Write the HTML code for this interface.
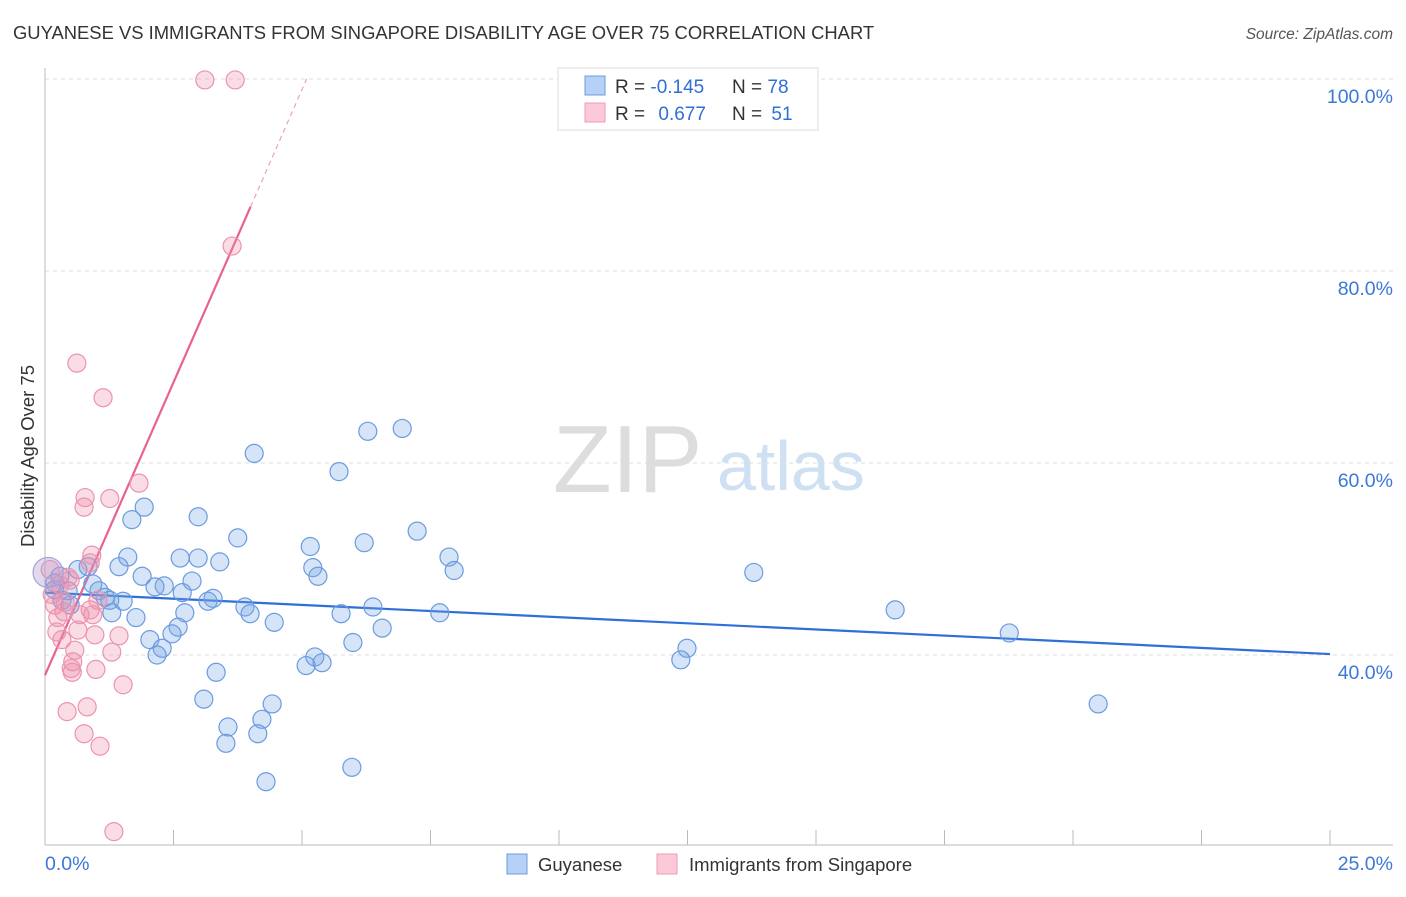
<!DOCTYPE html>
<html><head><meta charset="utf-8"><style>
body{margin:0;background:#fff;font-family:"Liberation Sans",sans-serif}
svg text{font-family:"Liberation Sans",sans-serif}
</style></head><body>
<svg id="chart" width="1406" height="892" xmlns="http://www.w3.org/2000/svg">
<text x="13" y="39" font-size="18.4" fill="#333">GUYANESE VS IMMIGRANTS FROM SINGAPORE DISABILITY AGE OVER 75 CORRELATION CHART</text>
<text x="1393" y="39" font-size="15.5" font-style="italic" fill="#555" text-anchor="end">Source: ZipAtlas.com</text>
<g>
<text x="553" y="492" font-family="Liberation Serif" font-size="96" fill="#ddd">ZIP</text>
<text x="717" y="490" font-size="70" fill="#cfe0f3">atlas</text>
</g>
<g id="grid"></g>
<g id="axes"></g>
<g id="lines"></g>
<g id="points"></g>
<g>
<rect x="558" y="68" width="260" height="62" fill="#fff" stroke="#ddd"/>
<rect x="585" y="76" width="20" height="19" fill="#b7d0f5" stroke="#6a9be0"/>
<rect x="585" y="103" width="20" height="19" fill="#fbc9d8" stroke="#ee9bb5"/>
<text x="615" y="93" font-size="19" fill="#333">R = <tspan fill="#2f6fd6">-0.145</tspan></text>
<text x="732" y="93" font-size="19" fill="#333">N = <tspan fill="#2f6fd6">78</tspan></text>
<text x="615" y="120" font-size="19" fill="#333">R = <tspan fill="#2f6fd6" dx="8">0.677</tspan></text>
<text x="732" y="120" font-size="19" fill="#333">N = <tspan fill="#2f6fd6" dx="4">51</tspan></text>
</g>
<g>
<rect x="507" y="854" width="20" height="20" fill="#b7d0f5" stroke="#6a9be0"/>
<text x="538" y="871" font-size="18.5" fill="#333">Guyanese</text>
<rect x="657" y="854" width="20" height="20" fill="#fbc9d8" stroke="#ee9bb5"/>
<text x="689" y="871" font-size="18.5" fill="#333">Immigrants from Singapore</text>
</g>
<text transform="translate(34,456) rotate(-90)" font-size="18.5" fill="#333" text-anchor="middle">Disability Age Over 75</text>
</svg>
<script>
const yTicks=[100,80,60,40];
const yTickLabels=["100.0%","80.0%","60.0%","40.0%"];
const xTickLabels=["0.0%","25.0%"];
const blueX=[4.07,6.28,6.95,5.72,1.93,1.69,2.98,3.75,7.24,6.21,5.16,1.61,2.63,2.98,3.40,7.86,7.96,13.79,1.44,5.21,5.31,1.89,2.86,2.32,2.14,0.93,0.64,0.84,0.19,2.67,3.27,3.17,1.05,1.17,1.52,1.26,0.45,0.33,3.89,3.99,6.38,5.76,7.68,16.54,2.72,1.30,1.77,4.46,2.59,6.56,2.47,2.04,5.99,2.28,2.18,18.76,12.49,12.37,5.25,5.39,5.08,3.33,3.09,4.42,4.22,3.56,4.14,3.52,5.97,4.30,20.49,0.19,0.29,0.49];
const blueY=[61.0,63.3,63.6,59.1,55.4,54.1,54.4,52.2,52.9,51.7,51.3,50.2,50.1,50.1,49.7,50.2,48.8,48.6,49.2,49.1,48.2,48.2,47.7,47.2,47.1,47.4,48.9,49.2,47.5,46.5,45.9,45.6,46.7,46.0,45.6,45.7,46.7,45.7,45.0,44.3,45.0,44.3,44.4,44.7,44.4,44.4,43.9,43.4,42.9,42.8,42.2,41.6,41.3,40.7,40.0,42.3,40.7,39.5,39.8,39.2,38.9,38.2,35.4,34.9,33.3,32.5,31.8,30.8,28.3,26.8,34.9,46.8,48.2,45.2];
const pinkX=[3.11,3.70,3.64,0.62,1.13,1.83,0.78,1.26,0.76,0.91,0.88,0.49,0.29,0.14,0.19,0.37,0.88,0.93,0.39,0.68,0.64,0.23,0.33,0.97,1.44,0.58,1.30,0.54,0.51,0.53,0.99,1.52,0.43,0.82,0.76,1.07,1.34,0.10,0.45,1.03,0.25];
const pinkY=[99.9,99.9,82.6,70.4,66.8,57.9,56.4,56.3,55.4,50.4,49.6,47.8,47.3,46.3,45.2,44.5,44.7,44.2,45.5,44.2,42.6,42.4,41.6,42.1,42.0,40.5,40.3,39.3,38.6,38.2,38.5,36.9,34.1,34.6,31.8,30.5,21.6,48.9,48.1,45.7,43.9];
const blueTrend=[46.5,-0.256]; // intercept, slope
const pinkTrend=[37.9,12.2];
const NS="http://www.w3.org/2000/svg";
const X=v=>45+v/25*1285, Y=v=>79+(100-v)*9.6;
function mk(t,a,p){const e=document.createElementNS(NS,t);for(const k in a)e.setAttribute(k,a[k]);p.appendChild(e);return e;}
const grid=document.getElementById('grid'),axes=document.getElementById('axes'),lines=document.getElementById('lines'),pts=document.getElementById('points');
yTicks.forEach((t,i)=>{
 const l=mk('line',{x1:45,x2:1393,y1:Y(t),y2:Y(t),stroke:'#ddd','stroke-dasharray':'4,4'},grid);
 
 
 const tx=mk('text',{x:1393,y:Y(t)+24,'font-size':19.5,fill:'#3b78d8','text-anchor':'end'},axes);
 tx.textContent=yTickLabels[i];
 
 
});
const ya=mk('line',{x1:45,x2:45,y1:68,y2:845,stroke:'#bbb'},axes);


const xa=mk('line',{x1:45,x2:1393,y1:845,y2:845,stroke:'#bbb'},axes);


for(let i=1;i<=10;i++){const t=mk('line',{x1:X(i*2.5),x2:X(i*2.5),y1:830,y2:845,stroke:'#bbb'},axes);
 
 }
const x0=mk('text',{x:45,y:870,'font-size':19.5,fill:'#3b78d8'},axes);x0.textContent=xTickLabels[0];


const x1=mk('text',{x:1393,y:870,'font-size':19.5,fill:'#3b78d8','text-anchor':'end'},axes);x1.textContent=xTickLabels[1];


function dot(x,y,f,s,r){const c=mk('circle',{cx:X(x),cy:Y(y),r:r||9,fill:f,stroke:s,'stroke-width':1.2},pts);return c;}
blueX.forEach((x,i)=>{const c=dot(x,blueY[i],'rgba(120,165,230,0.3)','#6a9be0');
 
 });
pinkX.forEach((x,i)=>{const c=dot(x,pinkY[i],'rgba(240,140,170,0.3)','#ec93b0');
 
 });
const big=dot(0.06,48.6,'rgba(180,160,210,0.4)','#a9a0d8',15);


const bl=mk('line',{x1:X(0),y1:Y(blueTrend[0]),x2:X(25),y2:Y(blueTrend[0]+blueTrend[1]*25),stroke:'#2f6fd6','stroke-width':2.2},lines);


const pl=mk('line',{x1:X(0),y1:Y(pinkTrend[0]),x2:X(4),y2:Y(pinkTrend[0]+pinkTrend[1]*4),stroke:'#e8628f','stroke-width':2.2},lines);


const xe=(100-pinkTrend[0])/pinkTrend[1];
const pd=mk('line',{x1:X(4),y1:Y(pinkTrend[0]+pinkTrend[1]*4),x2:X(xe),y2:Y(100),stroke:'#eea0b8','stroke-width':1.2,'stroke-dasharray':'5,4'},lines);


</script>
</body></html>
